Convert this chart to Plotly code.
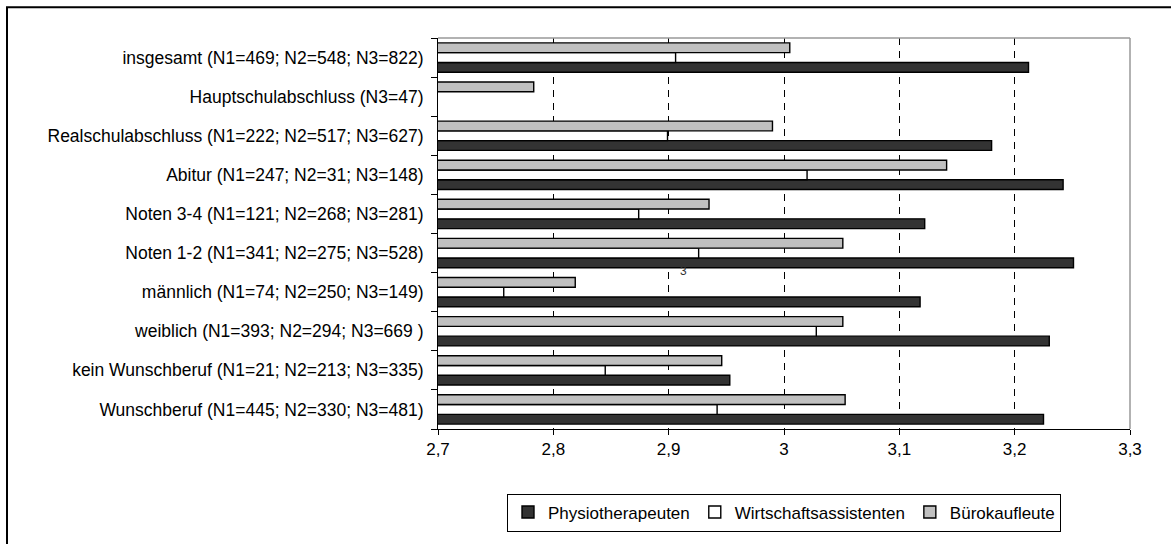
import plotly.graph_objects as go

# Categories, listed from the bottom of the chart to the top
categories = [
    "Wunschberuf (N1=445; N2=330; N3=481)",
    "kein Wunschberuf (N1=21; N2=213; N3=335)",
    "weiblich (N1=393; N2=294; N3=669 )",
    "männlich (N1=74; N2=250; N3=149)",
    "Noten 1-2 (N1=341; N2=275; N3=528)",
    "Noten 3-4 (N1=121; N2=268; N3=281)",
    "Abitur (N1=247; N2=31; N3=148)",
    "Realschulabschluss (N1=222; N2=517; N3=627)",
    "Hauptschulabschluss (N3=47)",
    "insgesamt (N1=469; N2=548; N3=822)",
]

physio = [3.225, 2.953, 3.230, 3.118, 3.251, 3.122, 3.242, 3.180, None, 3.212]
wirtschaft = [2.942, 2.845, 3.028, 2.757, 2.926, 2.874, 3.020, 2.899, None, 2.906]
buero = [3.053, 2.946, 3.051, 2.819, 3.051, 2.935, 3.141, 2.990, 2.783, 3.005]

x_ticks = [2.7, 2.8, 2.9, 3.0, 3.1, 3.2, 3.3]
x_tick_text = ["2,7", "2,8", "2,9", "3", "3,1", "3,2", "3,3"]

FONT = "Liberation Sans, Arial, sans-serif"
W, H = 1171, 544
ML, MR, MT, MB = 438, 41, 38, 113
PW, PH = W - ML - MR, H - MT - MB


def px_x(p):
    return (p - ML) / PW


def px_y(p):
    return (H - MB - p) / PH


fig = go.Figure()
series = [
    ("Physiotherapeuten", physio, "#333333"),
    ("Wirtschaftsassistenten", wirtschaft, "#FFFFFF"),
    ("Bürokaufleute", buero, "#C0C0C0"),
]
for name, vals, color in series:
    fig.add_trace(go.Bar(
        name=name, y=categories, x=vals, orientation="h",
        marker=dict(color=color, line=dict(color="black", width=1.4)),
        base=0,
    ))

fig.update_layout(
    width=W, height=H, autosize=False,
    margin=dict(l=ML, r=MR, t=MT, b=MB, pad=0),
    paper_bgcolor="white", plot_bgcolor="white",
    font=dict(family=FONT, size=17, color="black"),
    barmode="group", bargap=0.25, bargroupgap=0,
    showlegend=True,
    legend=dict(
        orientation="h", x=0.5, xanchor="center", y=-0.165, yanchor="top",
        bordercolor="black", borderwidth=1, font=dict(size=17),
        itemwidth=30, traceorder="normal",
    ),
    xaxis=dict(
        range=[2.7, 3.3], tickvals=x_ticks, ticktext=x_tick_text,
        showgrid=True, gridcolor="black", griddash="7px,6px", gridwidth=1,
        showline=True, linecolor="black", linewidth=1,
        ticks="outside", ticklen=5, tickcolor="black",
        zeroline=False, tickfont=dict(size=17),
    ),
    yaxis=dict(
        type="category", categoryorder="array", categoryarray=categories,
        tickson="boundaries", ticks="outside", ticklen=6, tickcolor="black",
        showline=True, linecolor="black", linewidth=1, showgrid=False,
        ticklabelstandoff=10, tickfont=dict(size=17.5),
    ),
    shapes=[
        # plot-area frame on the top and right
        dict(type="line", xref="paper", yref="paper", x0=0, x1=1, y0=1, y1=1,
             line=dict(color="#999999", width=1.5), layer="above"),
        dict(type="line", xref="paper", yref="paper", x0=1, x1=1, y0=0, y1=1,
             line=dict(color="#999999", width=1.5), layer="above"),
        # outer chart frame
        dict(type="rect", xref="paper", yref="paper",
             x0=px_x(7), x1=px_x(1190), y0=px_y(7), y1=px_y(560),
             line=dict(color="black", width=2), fillcolor="rgba(0,0,0,0)",
             layer="above"),
    ],
    annotations=[
        dict(text="3", x=2.9125, xref="x", y=px_y(272), yref="paper",
             showarrow=False, font=dict(size=12, color="#333333")),
    ],
)

fig.write_html("out.html")
